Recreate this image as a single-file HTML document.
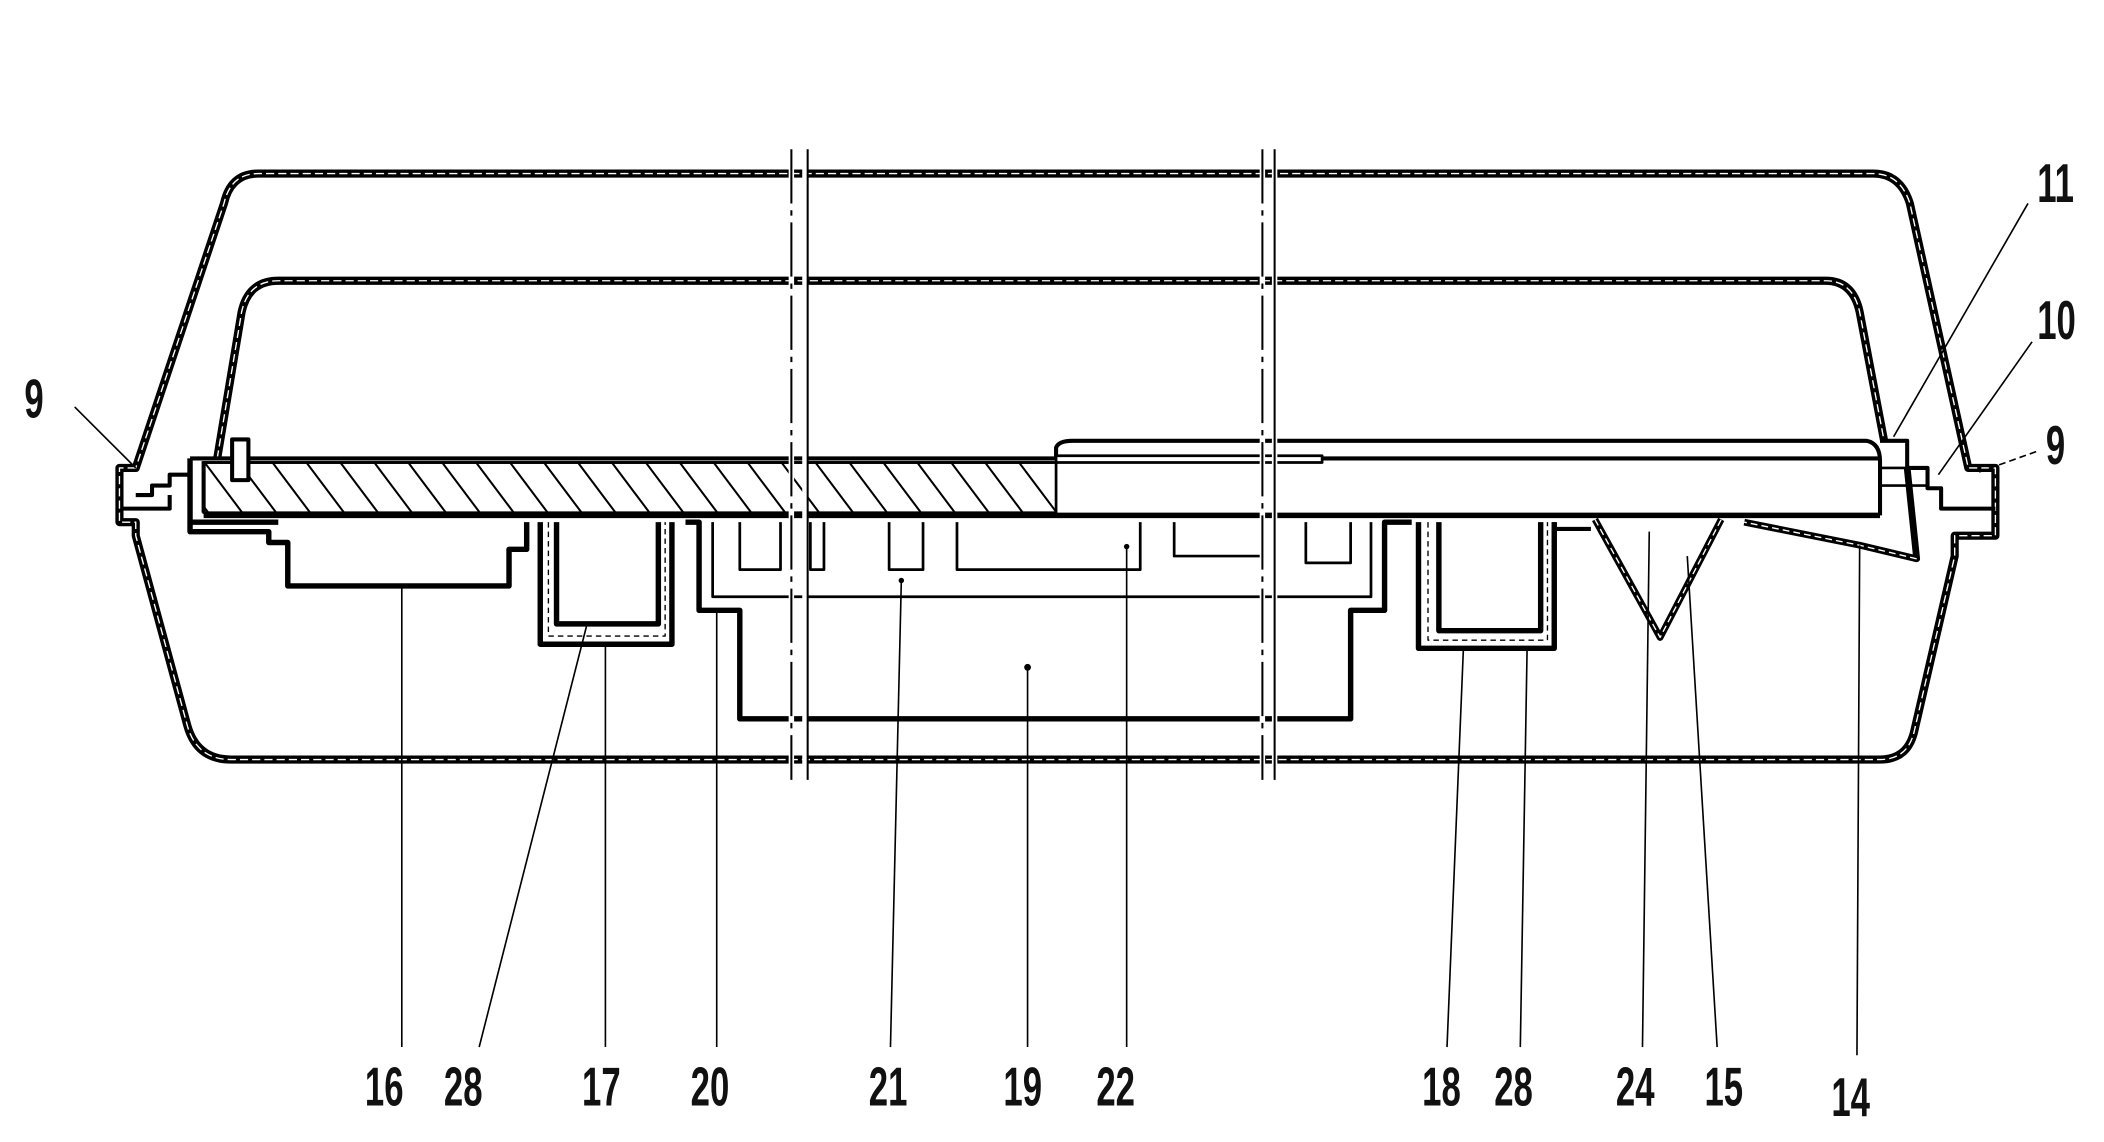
<!DOCTYPE html>
<html><head><meta charset="utf-8"><style>
html,body{margin:0;padding:0;background:#fff;}
svg{display:block}
text{font-family:"Liberation Sans",sans-serif;font-size:40px;fill:#111;font-weight:bold;}
</style></head><body>
<svg width="2104" height="1142" viewBox="0 0 1550 842" preserveAspectRatio="none" xmlns="http://www.w3.org/2000/svg">
<defs>
<clipPath id="hc"><rect x="150" y="341" width="628" height="37"/></clipPath>
</defs>
<g fill="none" stroke="#000" stroke-linejoin="round">
<path d="M100,345 L88,345 L88,385 L100,385 L100,395 L138,535 Q145,560 170,560 L1385,560 Q1405,560 1410,540 L1440,410 L1440,395 L1470,395 L1470,345 L1450,345 L1407,150 Q1400,128 1380,128 L190,128 Q170,128 165,150 Z" stroke-width="6"/>
<path d="M160,338 L178,230 Q183,207 205,207 L1345,207 Q1365,207 1370,230 L1388,325" stroke-width="6"/>
<path d="M100,345 L88,345 L88,385 L100,385 L100,395 L138,535 Q145,560 170,560 L1385,560 Q1405,560 1410,540 L1440,410 L1440,395 L1470,395 L1470,345 L1450,345 L1407,150 Q1400,128 1380,128 L190,128 Q170,128 165,150 Z" stroke="#fff" stroke-width="1" stroke-dasharray="6 3"/>
<path d="M160,338 L178,230 Q183,207 205,207 L1345,207 Q1365,207 1370,230 L1388,325" stroke="#fff" stroke-width="1" stroke-dasharray="6 3"/>
<path d="M100,365 L112,365 L112,358 L125,358 L125,350 L140,350" stroke-width="3"/>
<path d="M90,375 L125,375 L125,365" stroke-width="3"/>
<path d="M140,338 L140,385 L205,385" stroke-width="4"/>
<path d="M150,340 L150,378" stroke-width="3"/>
<path d="M140,338 L1385,338" stroke-width="3"/>
<path d="M150,341 L778,341" stroke-width="2"/>
<rect x="150" y="341" width="628" height="37" stroke-width="2"/>
<g clip-path="url(#hc)" stroke-width="1.5">
<path d="M150,340 l30,40 M175,340 l30,40 M200,340 l30,40 M225,340 l30,40 M250,340 l30,40 M275,340 l30,40 M300,340 l30,40 M325,340 l30,40 M350,340 l30,40 M375,340 l30,40 M400,340 l30,40 M425,340 l30,40 M450,340 l30,40 M475,340 l30,40 M500,340 l30,40 M525,340 l30,40 M550,340 l30,40 M575,340 l30,40 M600,340 l30,40 M625,340 l30,40 M650,340 l30,40 M675,340 l30,40 M700,340 l30,40 M725,340 l30,40 M750,340 l30,40 M125,340 l30,40"/>
</g>
<rect x="171" y="324" width="12" height="30" fill="#fff" stroke-width="3"/>
<path d="M150,380 L1385,380" stroke-width="4"/>
<path d="M778,338 L778,330 Q780,325 790,325 L1375,325 Q1385,327 1385,340 L1385,380" stroke-width="3"/>
<rect x="778" y="336" width="196" height="5" fill="#fff" stroke-width="2"/>
<path d="M1385,325 L1405,325 L1405,345 L1420,345 L1420,360 L1430,360 L1430,375 L1470,375" stroke-width="3"/>
<path d="M1385,345 L1405,345 M1385,358 L1420,358" stroke-width="2"/>
<path d="M1405,345 L1412,412 L1370,402 L1285,385" stroke-width="5"/>
<path d="M1412,412 L1370,402 L1285,385" stroke="#fff" stroke-width="1" stroke-dasharray="5 3"/>
<path d="M140,385 L140,392 L198,392 L198,400 L212,400 L212,432 L375,432 L375,405 L388,405 L388,385" stroke-width="4"/>
<path d="M398,385 L398,475 L495,475 L495,385" stroke-width="4"/>
<path d="M410,385 L410,460 L485,460 L485,385" stroke-width="4"/>
<path d="M404,385 L404,469 L490,469 L490,385" stroke-width="1" stroke-dasharray="4 3"/>
<path d="M505,385 L515,385 L515,450 L545,450 L545,530 L995,530 L995,450 L1020,450 L1020,385 L1040,385" stroke-width="4"/>
<path d="M525,385 L525,440 L1010,440 L1010,385" stroke-width="2"/>
<path d="M545,385 L545,420 L575,420 L575,385" stroke-width="2"/>
<path d="M597,385 L597,420 L607,420 L607,385" stroke-width="2"/>
<path d="M655,385 L655,420 L680,420 L680,385" stroke-width="2"/>
<path d="M705,385 L705,420 L840,420 L840,385" stroke-width="2"/>
<path d="M865,385 L865,410 L930,410" stroke-width="2"/>
<path d="M962,385 L962,415 L995,415 L995,385" stroke-width="2"/>
<path d="M1045,385 L1045,478 L1145,478 L1145,385" stroke-width="4"/>
<path d="M1060,385 L1060,465 L1135,465 L1135,385" stroke-width="4"/>
<path d="M1052,385 L1052,472 L1140,472 L1140,385" stroke-width="1" stroke-dasharray="4 3"/>
<path d="M1145,385 L1145,390 L1172,390" stroke-width="3"/>
<path d="M1175,383 L1223,470 L1268,383" stroke-width="5"/>
<path d="M1175,383 L1223,470 L1268,383" stroke="#fff" stroke-width="1" stroke-dasharray="5 3"/>
<path d="M583,110 L583,575 M593,110 L593,575 M930,110 L930,575 M939,110 L939,575" stroke="#fff" stroke-width="4"/>
<path d="M583,110 L583,575 M930,110 L930,575" stroke-width="1.5" stroke-dasharray="40 5 4 5"/>
<path d="M595,110 L595,575 M939,110 L939,575" stroke-width="1.5"/>
<g stroke-width="1.2">
<path d="M296,432 L296,772"/>
<path d="M432,462 L353,772"/>
<path d="M446,477 L446,772"/>
<path d="M528,450 L528,772"/>
<path d="M664,428 L656,772"/>
<path d="M757,492 L757,772"/>
<path d="M830,403 L830,772"/>
<path d="M1078,480 L1066,772"/>
<path d="M1125,478 L1120,772"/>
<path d="M1215,392 L1210,772"/>
<path d="M1243,410 L1265,772"/>
<path d="M1370,402 L1368,778"/>
<path d="M55,300 L100,345"/>
<path d="M1494,150 L1395,322"/>
<path d="M1497,252 L1428,350"/>
<path d="M1500,333 L1458,348" stroke-dasharray="5 3"/>
</g>
</g>
<g fill="#000"><circle cx="757" cy="492" r="2.5"/><circle cx="664" cy="428" r="2"/><circle cx="830" cy="403" r="2"/></g>
<g transform="scale(0.64,1)">
<text x="420" y="815">16</text>
<text x="511" y="815">28</text>
<text x="670" y="815">17</text>
<text x="795" y="815">20</text>
<text x="1000" y="815">21</text>
<text x="1155" y="815">19</text>
<text x="1262" y="815">22</text>
<text x="1637" y="815">18</text>
<text x="1720" y="815">28</text>
<text x="1860" y="815">24</text>
<text x="1962" y="815">15</text>
<text x="2108" y="823">14</text>
<text x="28" y="308">9</text>
<text x="2345" y="149">11</text>
<text x="2345" y="250">10</text>
<text x="2355" y="342">9</text>
</g>
</svg>
</body></html>
